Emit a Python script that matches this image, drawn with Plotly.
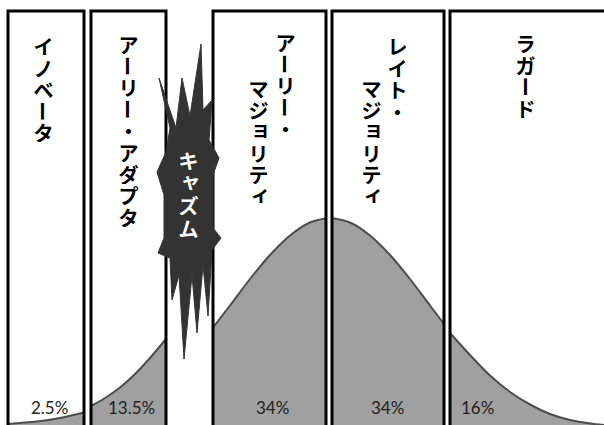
import plotly.graph_objects as go

# ---------------- data ----------------
segments = ["イノベータ", "アーリー・アダプタ", "アーリー・マジョリティ", "レイト・マジョリティ", "ラガード"]
# label columns (vertical writing, right column first)
label_columns = [["イノベータ"], ["アーリー・アダプタ"], ["アーリー・", "マジョリティ"], ["レイト・", "マジョリティ"], ["ラガード"]]
shares = [2.5, 13.5, 34, 34, 16]
chasm_label = "キャズム"

# bell curve (heights, in px above the bottom edge), one list per segment
curve_x = [
    [8, 25, 45, 65, 84],
    [91, 105, 120, 135, 150, 166],
    [213, 230, 250, 270, 290, 310, 326],
    [332, 350, 370, 390, 410, 430, 444],
    [450, 470, 490, 510, 530, 550, 570, 590, 604],
]
curve_h = [
    [1, 2.5, 4.5, 8, 12.5],
    [19, 27, 37.5, 51, 67, 86],
    [97.5, 119.5, 146, 170, 189.5, 202.5, 206.7],
    [207, 202.5, 189.5, 170, 146, 119.5, 101],
    [92, 70, 49.5, 33, 20.5, 11, 5, 1.5, 0],
]

# ---------------- layout geometry ----------------
W, H = 604, 425
box_left = [8, 91, 213, 332, 450]
box_right = [84, 166, 326, 444, 612]
box_top_row = 11
pct_x = [49, 131, 272, 387, 477]
pct_row = 407
col_x = [[43], [128], [285, 258], [397, 371], [525]]
col_row0 = [[46], [44], [42, 88], [46, 88], [43]]
pitch = 21.6
chasm_x, chasm_row0, chasm_pitch = 188, 160, 22.6
star_outline = [
    (159, 78), (176, 128), (182, 78), (190, 116), (201, 44), (203, 110), (212, 100),
    (209, 140), (219, 158), (213, 175), (213, 228), (221, 238), (212, 250), (208, 316),
    (203, 265), (197, 333), (192, 275), (184, 359), (179, 275), (172, 300), (170, 258),
    (158, 253), (164, 238), (164, 195), (157, 172), (166, 152), (170, 128),
]

FILL = "#a0a0a0"
CURVE = "#4d4d4d"
JP_FONT = "Noto Sans CJK JP"

fig = go.Figure()

for xs, hs in zip(curve_x, curve_h):
    fig.add_trace(go.Scatter(
        x=xs, y=hs, mode="lines", line=dict(color=CURVE, width=2, shape="spline", smoothing=0.8),
        fill="tozeroy", fillcolor=FILL, hoverinfo="skip", showlegend=False))

shapes = []
for l, r in zip(box_left, box_right):
    shapes.append(dict(type="rect", xref="x", yref="y", x0=l, x1=r, y0=-10, y1=H - box_top_row,
                       line=dict(color="black", width=3), fillcolor="rgba(0,0,0,0)", layer="above"))

path = "M " + " L ".join(f"{x},{H - r}" for x, r in star_outline) + " Z"
shapes.append(dict(type="path", xref="x", yref="y", path=path, fillcolor="#333333",
                   line=dict(color="#333333", width=1), layer="above"))

annotations = []
SMALL = "ャュョィァゥェォッ"


def vtext(text, x, row0, step, color):
    for i, ch in enumerate(text):
        row = row0 + i * step
        dx, dy = 0, 0
        if ch in SMALL:
            dx, dy = 2.5, -3
        annotations.append(dict(
            x=x + dx, y=H - (row + dy), xref="x", yref="y", text=ch, showarrow=False,
            textangle=90 if ch == "ー" else 0, xanchor="center", yanchor="middle",
            width=21, height=20, borderpad=0,
            font=dict(family=JP_FONT, size=20, color=color, weight=700)))


for cols, xs, rows in zip(label_columns, col_x, col_row0):
    for text, x, r0 in zip(cols, xs, rows):
        vtext(text, x, r0, pitch, "black")

vtext(chasm_label, chasm_x, chasm_row0, chasm_pitch, "white")

for v, x in zip(shares, pct_x):
    annotations.append(dict(x=x, y=H - pct_row, xref="x", yref="y", text=f"{v:g}%", showarrow=False,
                            xanchor="center", yanchor="middle",
                            font=dict(family="Lato", size=17, color="#222222")))

fig.update_layout(
    width=W, height=H, margin=dict(l=0, r=0, t=0, b=0),
    paper_bgcolor="white", plot_bgcolor="white",
    xaxis=dict(range=[0, W], visible=False, fixedrange=True),
    yaxis=dict(range=[0, H], visible=False, fixedrange=True),
    shapes=shapes, annotations=annotations, showlegend=False,
)

fig.write_html("out.html", config={"displayModeBar": False})
